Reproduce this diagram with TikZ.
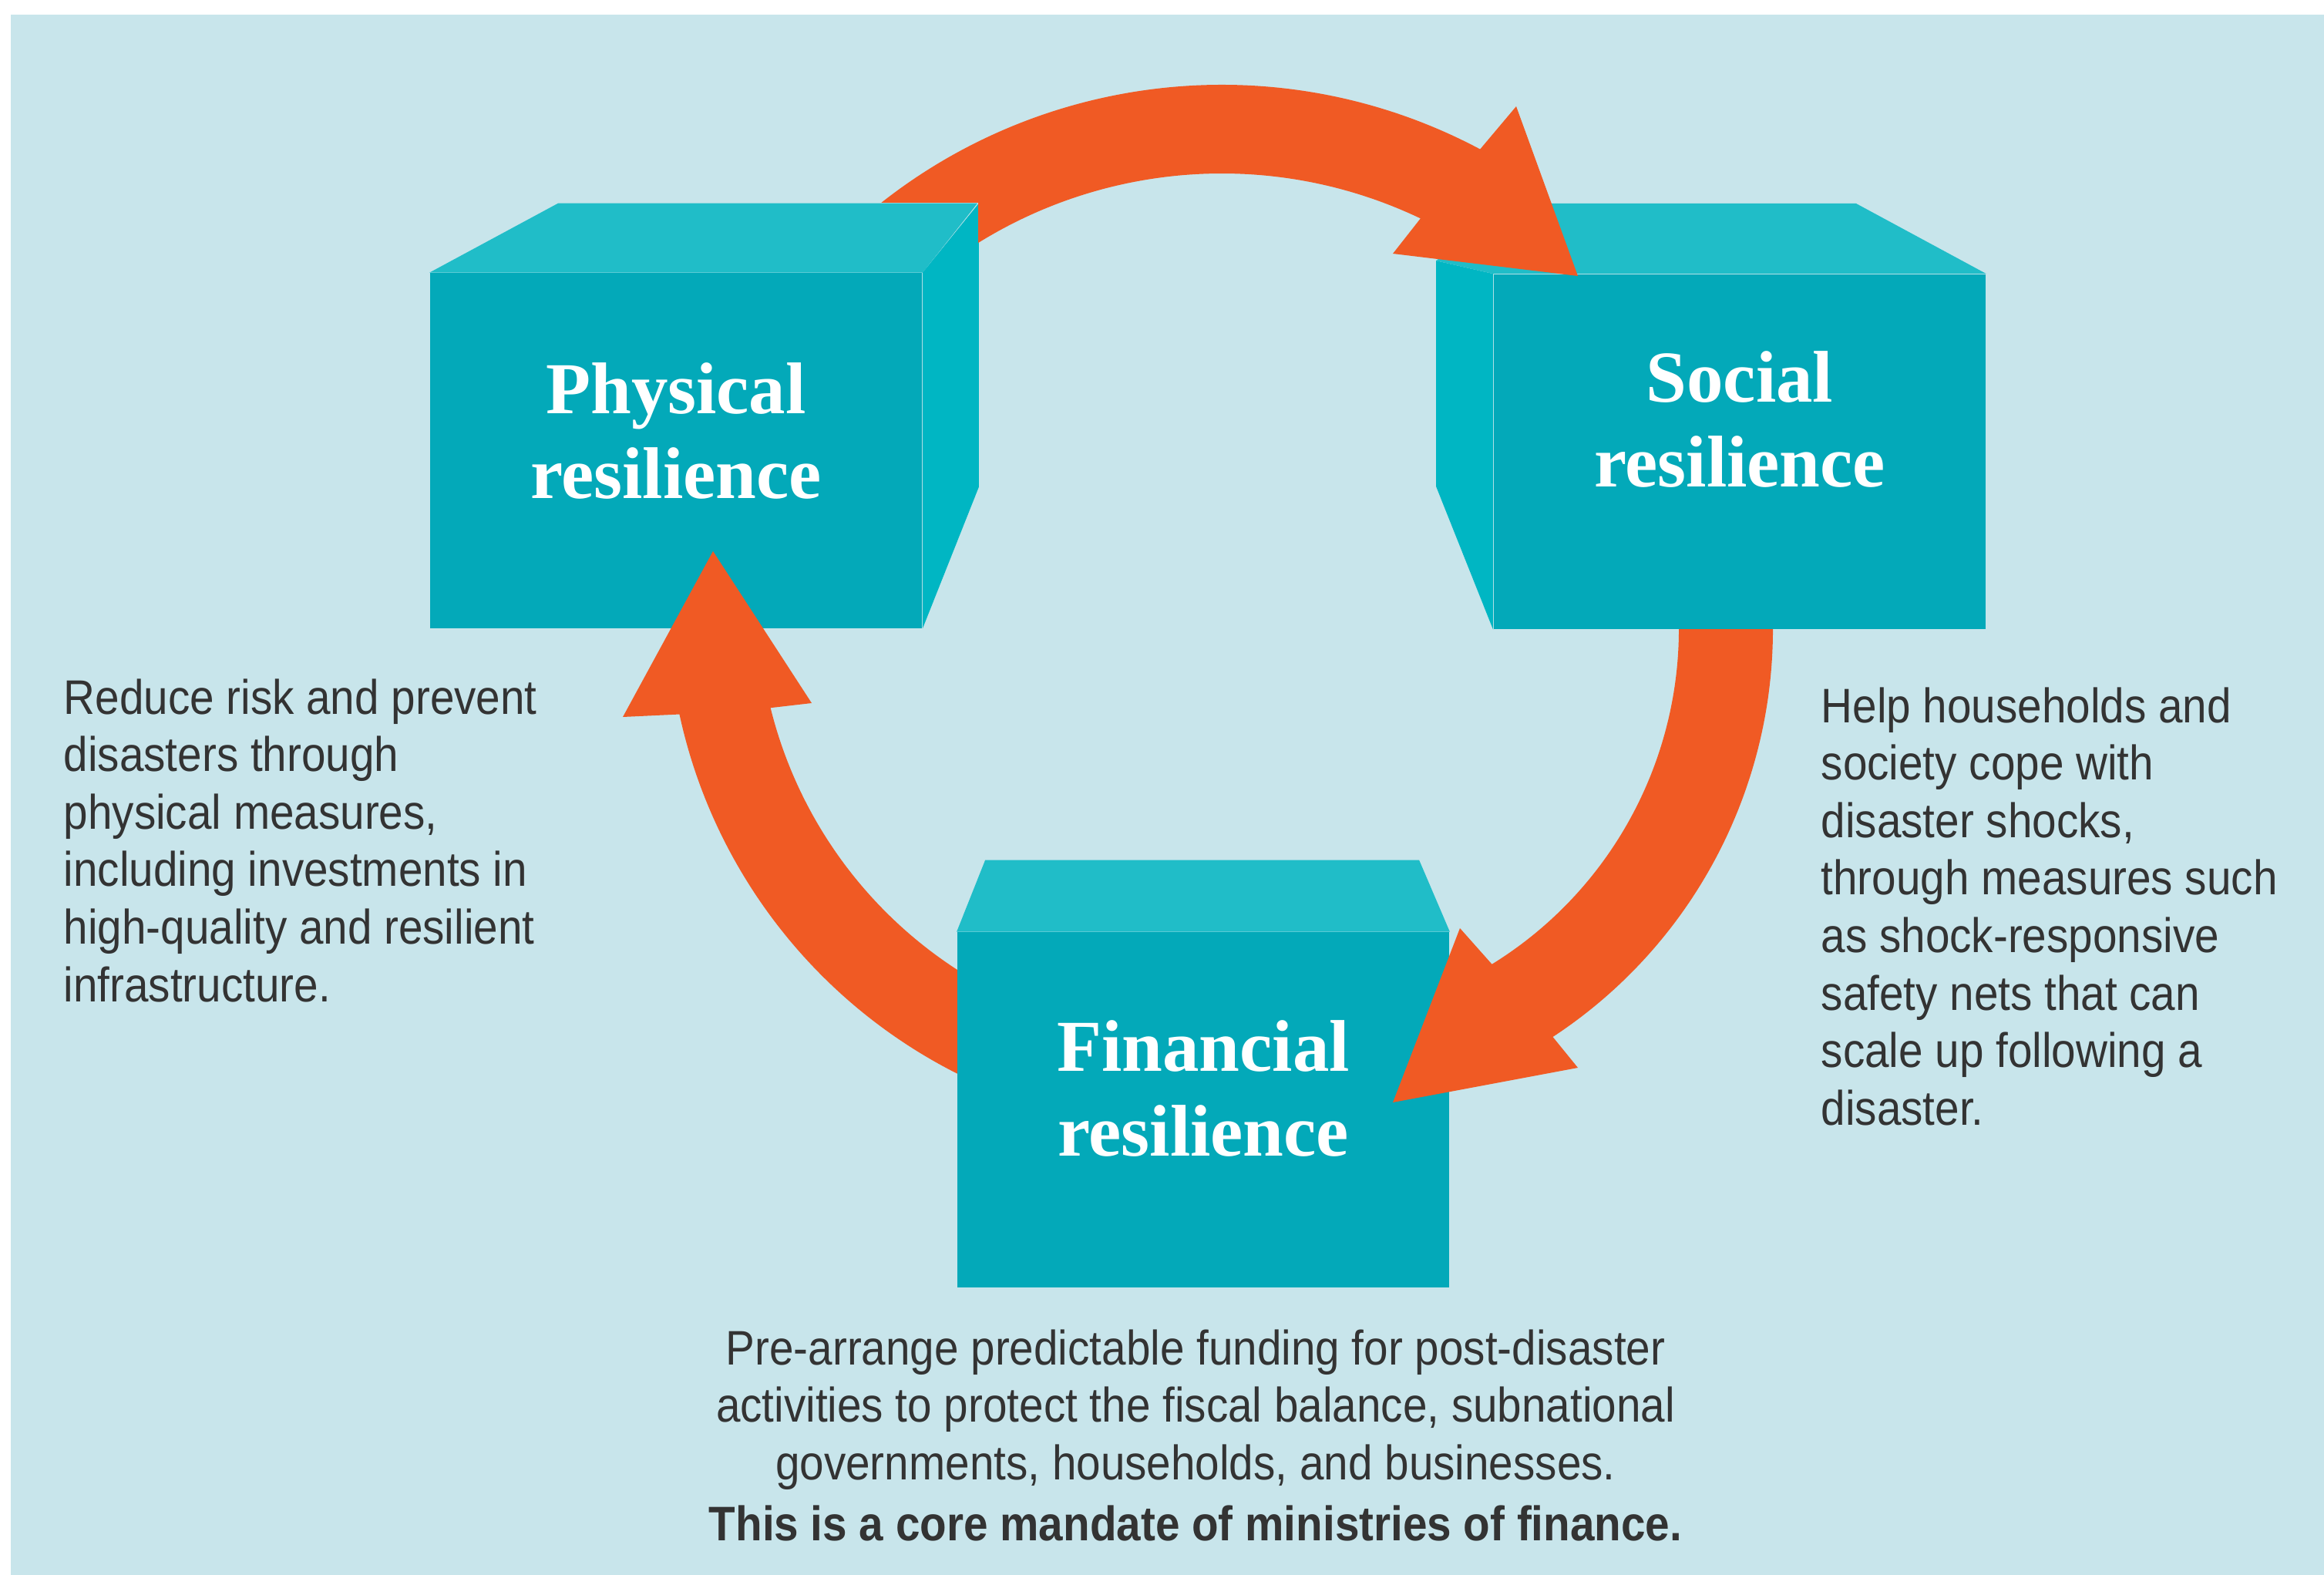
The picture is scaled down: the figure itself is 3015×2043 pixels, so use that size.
\documentclass[tikz,border=0pt]{standalone}
\usepackage{fontspec}
\setmainfont{Liberation Sans}[FakeStretch=0.9]
\newfontfamily\boxfont{Liberation Serif}
\usetikzlibrary{calc}
\definecolor{bgblue}{HTML}{C8E5EB}
\definecolor{boxfront}{HTML}{03A9B9}
\definecolor{boxtop}{HTML}{20BDC8}
\definecolor{boxside}{HTML}{00B6C3}
\definecolor{arrorange}{HTML}{F05A24}
\definecolor{notegray}{HTML}{333333}

\begin{document}
\begin{tikzpicture}[x=0.01cm, y=-0.01cm,
    box/.style={fill=boxfront, minimum width=6.38cm, minimum height=4.6cm, inner sep=0pt,
        text=white, align=center, font=\boxfont\bfseries\fontsize{27pt}{31.3pt}\selectfont},
    note/.style={text=notegray, inner sep=0pt, font=\fontsize{17.9pt}{21.2pt}\selectfont},
    arr/.style={fill=arrorange}]
    \useasboundingbox (0,0) rectangle (3015,2043);
    \fill[bgblue] (14,19) rectangle (3015,2043);
    %
    \coordinate (ctop) at (1585,824);
    \coordinate (cright) at (1667,816);
    \coordinate (cleft) at (1550,782);
    %
    \node[box, text depth=0.51cm] (phys) at (877,584.5) {Physical\\resilience};
    \fill[boxtop] (phys.north west) -- ++(167,-90) -- ++(544,0) -- (phys.north east) -- cycle;
    \fill[boxside] (phys.north east) -- ++(73,-90) -- ++(0,368) -- (phys.south east) -- cycle;
    %
    \fill[arr] ($(cleft)+(110:684)$) arc[start angle=110, end angle=167.8, radius=684]
        -- (808,930) -- (925,715) -- (1053,912)
        -- ($(cleft)+(166.1:567)$) arc[start angle=166.1, end angle=110, radius=567] -- cycle;
    %
    \node[box, text depth=0.55cm] (fin) at (1561,1439.5) {Financial\\resilience};
    \fill[boxtop] (fin.north west) -- ++(37,-93) -- ++(563,0) -- (fin.north east) -- cycle;
    %
    \fill[arr] ($(cright)+(-10:633)$) arc[start angle=-10, end angle=56.7, radius=633]
        -- (2047,1385) -- (1807,1430) -- (1894,1204)
        -- ($(cright)+(58.3:511)$) arc[start angle=58.3, end angle=-10, radius=511] -- cycle;
    %
    \node[box, text depth=0.85cm] (soc) at (2257,586) {Social\\resilience};
    \fill[boxside] (soc.north west) -- ++(-74,-17) -- ++(0,293) -- (soc.south west) -- cycle;
    \fill[boxtop] (soc.north west) -- ++(-74,-17) -- (1960,264) -- (2408,264) -- (soc.north east) -- cycle;
    %
    \begin{scope}
        \clip (0,0) -- (3015,0) -- (3015,2043) -- (1269,2043) -- (1269,263) -- (0,263) -- cycle;
        \fill[arr] ($(ctop)+(-135:714)$) arc[start angle=-135, end angle=-62, radius=714]
            -- (1967,138) -- (2047,358) -- (1807,329)
            -- ($(ctop)+(-64.5:599)$) arc[start angle=-64.5, end angle=-135, radius=599] -- cycle;
    \end{scope}
    %
    \node[note, anchor=north west, align=left] (physnote) at (82,880)
        {Reduce risk and prevent\\disasters through\\physical measures,\\including investments in\\high-quality and resilient\\infrastructure.};
    \node[note, anchor=north west, align=left] (socnote) at (2362,891)
        {Help households and\\society cope with\\disaster shocks,\\through measures such\\as shock-responsive\\safety nets that can\\scale up following a\\disaster.};
    \node[note, anchor=north, align=center] (finnote) at (1551,1724)
        {Pre-arrange predictable funding for post-disaster\\activities to protect the fiscal balance, subnational\\governments, households, and businesses.\\[1.4pt]\textbf{This is a core mandate of ministries of finance.}};
\end{tikzpicture}
\end{document}
